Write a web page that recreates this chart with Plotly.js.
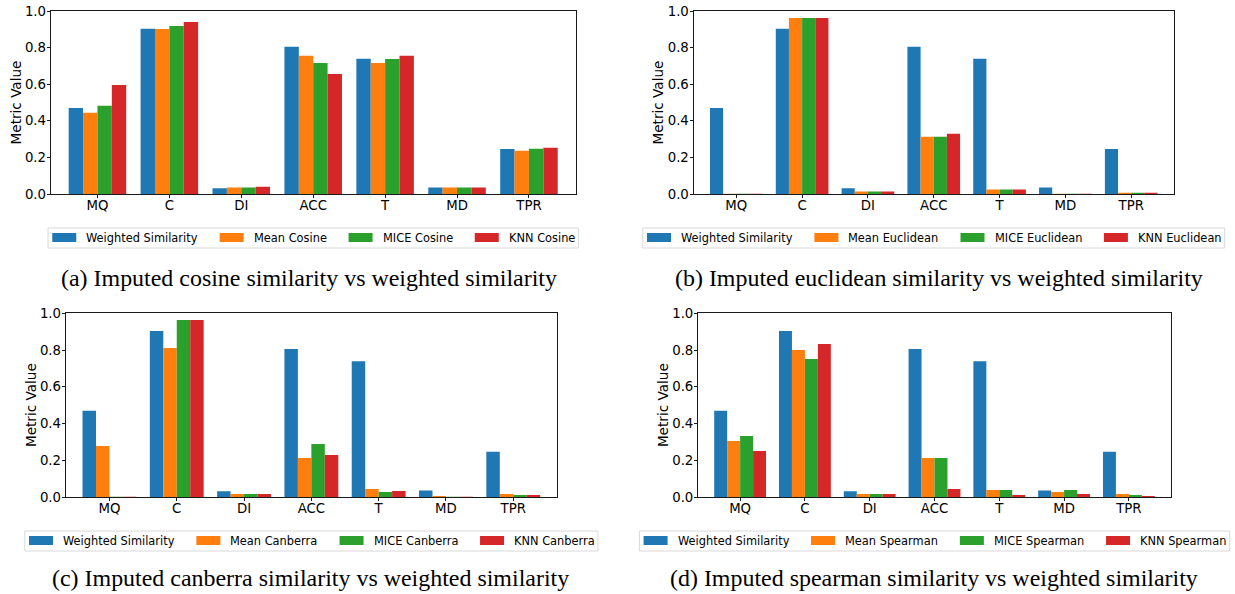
<!DOCTYPE html>
<html><head><meta charset="utf-8">
<script src="https://cdn.plot.ly/plotly-3.0.1.min.js"></script>
<style>html,body{margin:0;padding:0;background:#fff;}#chart{width:1235px;height:594px;}</style>
</head><body><div id="chart"></div>
<script>
// ---- data ----
const categories = ['MQ', 'C', 'DI', 'ACC', 'T', 'MD', 'TPR'];
const yTickVals = [0, 0.2, 0.4, 0.6, 0.8, 1.0];
const yAxisTitle = 'Metric Value';

const weightedSimilarity = [0.470, 0.903, 0.031, 0.805, 0.739, 0.036, 0.246];

const meanCosine = [0.444, 0.902, 0.035, 0.755, 0.716, 0.035, 0.236];
const miceCosine = [0.482, 0.918, 0.035, 0.716, 0.738, 0.035, 0.247];
const knnCosine  = [0.596, 0.940, 0.040, 0.656, 0.755, 0.035, 0.253];

const meanEuclidean = [0.002, 0.962, 0.013, 0.313, 0.024, 0.002, 0.007];
const miceEuclidean = [0.002, 0.962, 0.013, 0.313, 0.024, 0.002, 0.007];
const knnEuclidean  = [0.002, 0.962, 0.013, 0.329, 0.024, 0.002, 0.007];

const meanCanberra = [0.278, 0.811, 0.016, 0.212, 0.044, 0.005, 0.016];
const miceCanberra = [0.001, 0.964, 0.016, 0.289, 0.027, 0.001, 0.011];
const knnCanberra  = [0.001, 0.964, 0.016, 0.229, 0.033, 0.001, 0.011];

const meanSpearman = [0.305, 0.800, 0.016, 0.212, 0.038, 0.027, 0.016];
const miceSpearman = [0.332, 0.751, 0.016, 0.212, 0.038, 0.038, 0.011];
const knnSpearman  = [0.250, 0.833, 0.016, 0.044, 0.011, 0.016, 0.005];

const labelsCosine    = ['Weighted Similarity', 'Mean Cosine', 'MICE Cosine', 'KNN Cosine'];
const labelsEuclidean = ['Weighted Similarity', 'Mean Euclidean', 'MICE Euclidean', 'KNN Euclidean'];
const labelsCanberra  = ['Weighted Similarity', 'Mean Canberra', 'MICE Canberra', 'KNN Canberra'];
const labelsSpearman  = ['Weighted Similarity', 'Mean Spearman', 'MICE Spearman', 'KNN Spearman'];

const captions = [
  '(a) Imputed cosine similarity vs weighted similarity',
  '(b) Imputed euclidean similarity vs weighted similarity',
  '(c) Imputed canberra similarity vs weighted similarity',
  '(d) Imputed spearman similarity vs weighted similarity'
];

// ---- styling / layout ----
const W = 1235, H = 594;
const colors = ['#1f77b4', '#ff7f0e', '#2ca02c', '#d62728'];
const X = px => px / W;
const Y = py => 1 - py / H;

const panels = [
  {px: [50.7, 575.7], py: [11, 194], series: [weightedSimilarity, meanCosine, miceCosine, knnCosine], labels: labelsCosine, cap: captions[0], capX: 309, capY: 278},
  {px: [693.5, 1174], py: [11, 194], series: [weightedSimilarity, meanEuclidean, miceEuclidean, knnEuclidean], labels: labelsEuclidean, cap: captions[1], capX: 939, capY: 278},
  {px: [65.7, 557], py: [313.3, 497], series: [weightedSimilarity, meanCanberra, miceCanberra, knnCanberra], labels: labelsCanberra, cap: captions[2], capX: 310, capY: 578},
  {px: [698, 1171], py: [313.3, 497], series: [weightedSimilarity, meanSpearman, miceSpearman, knnSpearman], labels: labelsSpearman, cap: captions[3], capX: 934, capY: 578}
];

const ctx = document.createElement('canvas').getContext('2d');
function tw(text, font) { ctx.font = font; return ctx.measureText(text).width; }

const sansFamily = 'DejaVu Sans';
const legendFs = 11.4;
const capRef = tw(captions[0], '100px "Liberation Serif"');
const capFs = capRef > 0 ? 100 * 496 / capRef : 23.5;

const traces = [];
const layout = {
  width: W, height: H,
  margin: {l: 0, r: 0, t: 0, b: 0},
  paper_bgcolor: '#ffffff', plot_bgcolor: '#ffffff',
  showlegend: false,
  barmode: 'group', bargap: 0.2, bargroupgap: 0,
  font: {family: sansFamily, color: '#000000'},
  shapes: [], annotations: []
};

panels.forEach((p, i) => {
  const n = i + 1;
  const xa = 'x' + (n === 1 ? '' : n), ya = 'y' + (n === 1 ? '' : n);
  p.series.forEach((vals, k) => {
    traces.push({
      type: 'bar', x: categories, y: vals, name: p.labels[k],
      xaxis: xa, yaxis: ya,
      marker: {color: colors[k], line: {width: 0}},
      hoverinfo: 'skip'
    });
  });
  const common = {
    showline: true, mirror: true, linecolor: '#1a1a1a', linewidth: 1,
    ticks: 'outside', ticklen: 3, tickwidth: 1, tickcolor: '#1a1a1a',
    tickfont: {family: sansFamily, size: 13.3, color: '#000000'},
    showgrid: false, zeroline: false, fixedrange: true
  };
  layout['xaxis' + (n === 1 ? '' : n)] = Object.assign({}, common, {
    domain: [X(p.px[0]), X(p.px[1])], anchor: ya, type: 'category',
    range: [-0.65, 6.65], ticklabelstandoff: -4
  });
  layout['yaxis' + (n === 1 ? '' : n)] = Object.assign({}, common, {
    domain: [Y(p.py[1]), Y(p.py[0])], anchor: xa,
    range: [0, 1.0], tickvals: yTickVals, tickformat: '.1f', ticklabelstandoff: -2,
    title: {text: yAxisTitle, font: {family: sansFamily, size: 13.6, color: '#000000'}, standoff: 0}
  });

  // legend (matplotlib-style, below axes)
  const font = legendFs + 'px "' + sansFamily + '"';
  const sw = 24, sh = 9, gapT = 9, colSp = 23, pad = 4.2;
  const widths = p.labels.map(l => tw(l, font));
  let total = pad * 2 + colSp * (p.labels.length - 1);
  widths.forEach(w => total += sw + gapT + w);
  const center = (p.px[0] + p.px[1]) / 2;
  const left = center - total / 2;
  const top = p.py[1] + 34, h = 20, mid = top + 10;
  layout.shapes.push({
    type: 'rect', xref: 'paper', yref: 'paper', layer: 'above',
    x0: X(left), x1: X(left + total), y0: Y(top), y1: Y(top + h),
    line: {color: '#d9d9d9', width: 1}, fillcolor: 'rgba(255,255,255,0.8)'
  });
  let cx = left + pad;
  p.labels.forEach((l, k) => {
    layout.shapes.push({
      type: 'rect', xref: 'paper', yref: 'paper', layer: 'above',
      x0: X(cx), x1: X(cx + sw), y0: Y(mid - sh / 2 - 0.5), y1: Y(mid + sh / 2 - 0.5),
      line: {width: 0}, fillcolor: colors[k]
    });
    layout.annotations.push({
      xref: 'paper', yref: 'paper', x: X(cx + sw + gapT), y: Y(mid),
      xanchor: 'left', yanchor: 'middle', showarrow: false, borderpad: 0,
      text: l, font: {family: sansFamily, size: legendFs, color: '#000000'}
    });
    cx += sw + gapT + widths[k] + colSp;
  });

  // caption
  layout.annotations.push({
    xref: 'paper', yref: 'paper', x: X(p.capX), y: Y(p.capY),
    xanchor: 'center', yanchor: 'middle', showarrow: false, borderpad: 0,
    text: p.cap, font: {family: 'Liberation Serif', size: capFs, color: '#000000'}
  });
});

Plotly.newPlot('chart', traces, layout, {staticPlot: true, displayModeBar: false});
</script>
</body></html>
